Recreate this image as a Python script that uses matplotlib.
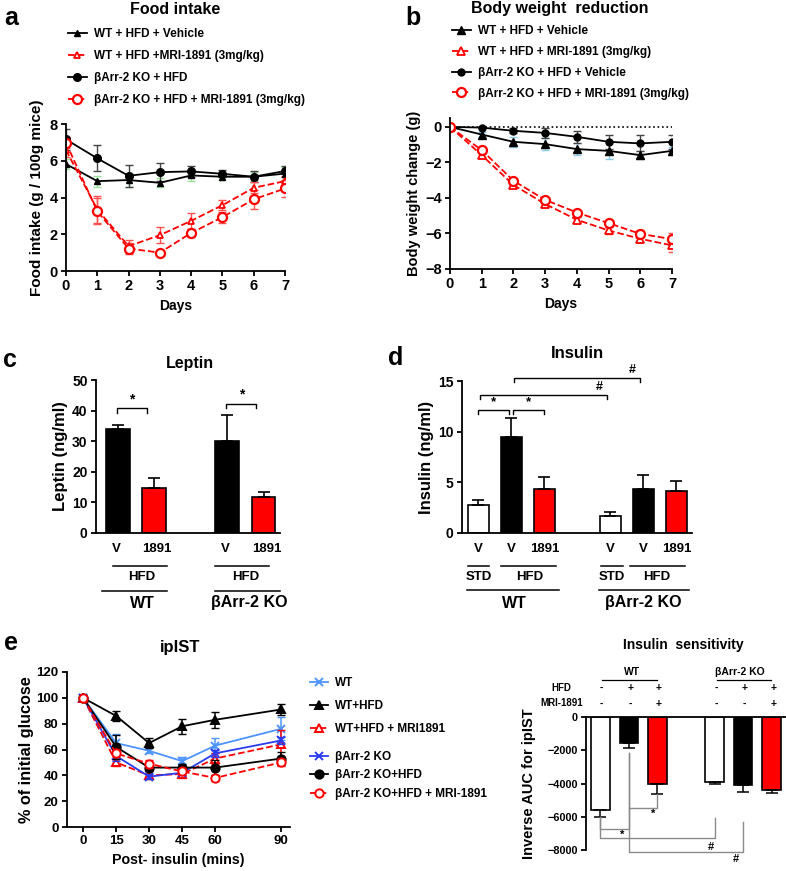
import matplotlib.pyplot as plt
from matplotlib import transforms

plt.rcParams['font.family'] = ['Liberation Sans', 'DejaVu Sans']
plt.rcParams['font.weight'] = 'bold'
plt.rcParams['axes.labelweight'] = 'bold'
plt.rcParams['axes.linewidth'] = 1.3
plt.rcParams['xtick.major.width'] = 1.3
plt.rcParams['ytick.major.width'] = 1.3
plt.rcParams['xtick.major.size'] = 3.5
plt.rcParams['ytick.major.size'] = 3.5
plt.rcParams['xtick.major.pad'] = 2.5
plt.rcParams['ytick.major.pad'] = 2.5

# ---- data ----
days = [0, 1, 2, 3, 4, 5, 6, 7]
food_wt_veh = [5.82, 4.89, 4.95, 4.8, 5.2, 5.13, 5.13, 5.3]
food_wt_veh_err = [0.25, 0.3, 0.4, 0.25, 0.3, 0.2, 0.25, 0.35]
food_wt_mri = [6.58, 3.35, 1.35, 1.95, 2.73, 3.58, 4.53, 4.89]
food_wt_mri_err = [0.35, 0.72, 0.35, 0.45, 0.45, 0.28, 0.3, 0.3]
food_ko = [7.16, 6.13, 5.18, 5.38, 5.42, 5.29, 5.13, 5.44]
food_ko_err = [0.55, 0.7, 0.6, 0.5, 0.3, 0.2, 0.3, 0.3]
food_ko_mri = [6.98, 3.25, 1.22, 1.0, 2.07, 2.93, 3.9, 4.49]
food_ko_mri_err = [0.3, 0.7, 0.3, 0.1, 0.2, 0.3, 0.5, 0.45]

bw_wt_veh = [0, -0.43, -0.84, -0.97, -1.25, -1.35, -1.59, -1.35]
bw_wt_veh_err = [0, 0.15, 0.28, 0.34, 0.35, 0.48, 0.24, 0.24]
bw_wt_mri = [0, -1.59, -3.27, -4.34, -5.23, -5.83, -6.3, -6.67]
bw_wt_mri_err = [0, 0.1, 0.1, 0.15, 0.15, 0.2, 0.2, 0.35]
bw_ko_veh = [0, -0.04, -0.22, -0.34, -0.56, -0.84, -0.93, -0.84]
bw_ko_veh_err = [0, 0.05, 0.15, 0.3, 0.35, 0.4, 0.45, 0.4]
bw_ko_mri = [0, -1.31, -3.03, -4.11, -4.82, -5.42, -6.02, -6.32]
bw_ko_mri_err = [0, 0.1, 0.1, 0.1, 0.1, 0.15, 0.2, 0.35]

leptin_pos = [0, 1, 3, 4]
leptin = [34.0, 14.8, 30.2, 11.9]
leptin_err = [1.3, 3.2, 8.5, 1.4]
leptin_colors = ['black', 'red', 'black', 'red']

insulin_pos = [0, 1, 2, 4, 5, 6]
insulin = [2.8, 9.5, 4.3, 1.65, 4.35, 4.15]
insulin_err = [0.45, 1.8, 1.2, 0.4, 1.35, 0.95]
bar_colors6 = ['white', 'black', 'red', 'white', 'black', 'red']

mins = [0, 15, 30, 45, 60, 90]
ip_wt = [100, 65, 59, 51, 63, 76]
ip_wt_err = [0, 7, 2, 3, 6, 9]
ip_wt_hfd = [100, 86, 65, 78, 83, 91]
ip_wt_hfd_err = [0, 4, 4, 6, 6, 4]
ip_wt_mri = [100, 50, 40, 41, 53, 64]
ip_wt_mri_err = [0, 3, 3, 3, 4, 11]
ip_ko = [100, 55, 39, 42, 57, 67]
ip_ko_err = [0, 4, 2, 2, 3, 3]
ip_ko_hfd = [100, 62, 46, 46, 46, 53]
ip_ko_hfd_err = [0, 9, 3, 3, 6, 5]
ip_ko_mri = [100, 57, 49, 43, 38, 50]
ip_ko_mri_err = [0, 3, 3, 3, 2, 3]

auc_pos = [0, 1, 2, 4, 5, 6]
auc = [-5600, -1560, -4030, -3900, -4090, -4390]
auc_err = [400, 300, 600, 100, 420, 200]
hfd_signs = ['-', '+', '+', '-', '+', '+']
mri_signs = ['-', '-', '+', '-', '-', '+']

# ---- figure ----
W, H = 786, 871
fig = plt.figure(figsize=(W / 100, H / 100), dpi=100)


def add_ax(l, t, r, b):
    ax = fig.add_axes([l / W, 1 - b / H, (r - l) / W, (b - t) / H])
    ax.spines['top'].set_visible(False)
    ax.spines['right'].set_visible(False)
    return ax


def ftext(x, y, s, **kw):
    kw.setdefault('ha', 'center')
    kw.setdefault('va', 'center')
    kw.setdefault('fontweight', 'bold')
    fig.text(x / W, 1 - y / H, s, **kw)


def below(ax):
    # x in data, y in figure pixels from top
    return transforms.blended_transform_factory(ax.transData, fig.transFigure)


def fy(y):
    return 1 - y / H


red_err = '#ff5050'

# ---- a: food intake ----
ax = add_ax(66, 124, 285, 271)
ax.errorbar(days, food_wt_veh, yerr=food_wt_veh_err, fmt='none', ecolor='#9be59b', capsize=3, lw=1)
ax.errorbar(days, food_ko, yerr=food_ko_err, fmt='none', ecolor='#444444', capsize=3, lw=1)
ax.errorbar(days, food_wt_mri, yerr=food_wt_mri_err, fmt='none', ecolor=red_err, capsize=3, lw=1)
ax.errorbar(days, food_ko_mri, yerr=food_ko_mri_err, fmt='none', ecolor=red_err, capsize=3, lw=1)
ax.plot(days, food_wt_veh, '-^', color='black', ms=5, lw=1.3, label='WT + HFD + Vehicle')
ax.plot(days, food_wt_mri, '--^', color='red', mfc='white', mec='red', mew=1.3, ms=5, lw=1.3,
        label='WT + HFD +MRI-1891 (3mg/kg)')
ax.plot(days, food_ko, '-o', color='black', ms=5.5, lw=1.3, label='βArr-2 KO + HFD')
ax.plot(days, food_ko_mri, '--o', color='red', mfc='white', mec='red', mew=1.6, ms=6.5, lw=1.3,
        label='βArr-2 KO + HFD + MRI-1891 (3mg/kg)')
ax.set_xlim(0, 7)
ax.set_ylim(0, 8)
ax.set_yticks([0, 2, 4, 6, 8])
ax.set_xticks(days)
ax.tick_params(labelsize=10.5)
ax.set_xlabel('Days', fontsize=10, labelpad=4)
ax.set_ylabel('Food intake (g / 100g mice)', fontsize=11, labelpad=4)
ax.legend(loc='upper left', bbox_to_anchor=(68 / W, fy(28)), bbox_transform=fig.transFigure,
          frameon=False, fontsize=8.5, handlelength=1.6, handletextpad=0.6, labelspacing=0.85,
          borderpad=0, borderaxespad=0)
ftext(175, 10, 'Food intake', fontsize=11.5)
ftext(11, 18, 'a', fontsize=18)

# ---- b: body weight ----
ax = add_ax(450, 118, 672, 269)
ax.axhline(0, color='black', ls=':', lw=1.2)
ax.errorbar(days, bw_wt_veh, yerr=bw_wt_veh_err, fmt='none', ecolor='#8ccbf0', capsize=3, lw=1)
ax.errorbar(days, bw_ko_veh, yerr=bw_ko_veh_err, fmt='none', ecolor='#444444', capsize=3, lw=1)
ax.errorbar(days, bw_wt_mri, yerr=bw_wt_mri_err, fmt='none', ecolor=red_err, capsize=3, lw=1)
ax.errorbar(days, bw_ko_mri, yerr=bw_ko_mri_err, fmt='none', ecolor=red_err, capsize=3, lw=1)
ax.plot(days, bw_wt_veh, '-^', color='black', ms=6, lw=1.3, label='WT + HFD + Vehicle')
ax.plot(days, bw_wt_mri, '--^', color='red', mfc='white', mec='red', mew=1.3, ms=6, lw=1.3,
        label='WT + HFD + MRI-1891 (3mg/kg)')
ax.plot(days, bw_ko_veh, '-o', color='black', ms=5, lw=1.3, label='βArr-2 KO + HFD + Vehicle')
ax.plot(days, bw_ko_mri, '--o', color='red', mfc='white', mec='red', mew=1.6, ms=6.5, lw=1.3,
        label='βArr-2 KO + HFD + MRI-1891 (3mg/kg)')
ax.set_xlim(0, 7)
ax.set_ylim(-8, 0.5)
ax.set_yticks([0, -2, -4, -6, -8])
ax.set_xticks(days)
ax.tick_params(labelsize=10.5)
ax.set_xlabel('Days', fontsize=10, labelpad=4)
ax.set_ylabel('Body weight change (g)', fontsize=10.5, labelpad=3)
ax.legend(loc='upper left', bbox_to_anchor=(452 / W, fy(25)), bbox_transform=fig.transFigure,
          frameon=False, fontsize=8.5, handlelength=1.6, handletextpad=0.6, labelspacing=0.75,
          borderpad=0, borderaxespad=0)
ftext(560, 9, 'Body weight  reduction', fontsize=11.5)
ftext(413, 18, 'b', fontsize=18)

# ---- c: leptin ----
ax = add_ax(96, 380, 280, 533)
ax.bar(leptin_pos, leptin, width=0.65, color=leptin_colors, edgecolor='black', lw=1.2,
       yerr=[[0] * 4, leptin_err], capsize=4, error_kw={'elinewidth': 1.2, 'capthick': 1.2})
ax.set_xlim(-0.6, 4.45)
ax.set_ylim(0, 50)
ax.set_yticks([0, 10, 20, 30, 40, 50])
ax.set_xticks([])
ax.tick_params(labelsize=10)
ax.set_ylabel('Leptin (ng/ml)', fontsize=12, labelpad=3)
for x0, x1, yb, yt in [(-0.03, 0.8, 39.2, 40.7), (2.98, 3.8, 40.8, 42.1)]:
    ax.plot([x0, x0, x1, x1], [yb, yt, yt, yb], color='black', lw=1, clip_on=False)
    ax.text((x0 + x1) / 2, yt + 0.8, '*', ha='center', va='bottom', fontsize=10, fontweight='bold')
tr = below(ax)
for p, s in zip(leptin_pos, ['V', '1891', 'V', '1891']):
    ax.text(p + (0.08 if s == '1891' else -0.05), fy(549), s, transform=tr, ha='center', va='center',
            fontsize=9.5, fontweight='bold')
for x0, x1, xt in [(-0.14, 1.34, 0.65), (2.66, 4.16, 3.5)]:
    ax.plot([x0, x1], [fy(566), fy(566)], transform=tr, color='black', lw=1.1, clip_on=False)
    ax.text(xt, fy(577), 'HFD', transform=tr, ha='center', va='center', fontsize=9.5, fontweight='bold')
for x0, x1, xt, s in [(-0.44, 1.34, 0.68, 'WT'), (2.66, 4.44, 3.6, 'βArr-2 KO')]:
    ax.plot([x0, x1], [fy(591), fy(591)], transform=tr, color='black', lw=1.1, clip_on=False)
    ax.text(xt, fy(603), s, transform=tr, ha='center', va='center', fontsize=11.5, fontweight='bold')
ftext(190, 363, 'Leptin', fontsize=11.5)
ftext(10, 360, 'c', fontsize=18)

# ---- d: insulin ----
ax = add_ax(462, 381, 692, 533)
ax.bar(insulin_pos, insulin, width=0.64, color=bar_colors6, edgecolor='black', lw=1.2,
       yerr=[[0] * 6, insulin_err], capsize=4, error_kw={'elinewidth': 1.2, 'capthick': 1.2})
ax.set_xlim(-0.5, 6.47)
ax.set_ylim(0, 15)
ax.set_yticks([0, 5, 10, 15])
ax.set_xticks([])
ax.tick_params(labelsize=10)
ax.set_ylabel('Insulin (ng/ml)', fontsize=12, labelpad=3)
for x0, x1, yb, yt, s in [(0.0, 0.92, 11.7, 12.1, '*'), (1.05, 2.0, 11.7, 12.1, '*'),
                          (0.05, 3.9, 13.2, 13.6, '#'), (1.08, 4.9, 14.9, 15.3, '#')]:
    ax.plot([x0, x0, x1, x1], [yb, yt, yt, yb], color='black', lw=1, clip_on=False)
    xt = (x0 + x1) / 2 if s == '*' else x1 - 0.25
    ax.text(xt, yt + 0.2, s, ha='center', va='bottom', fontsize=9.5 if s == '*' else 9)
tr = below(ax)
for p, s in zip(insulin_pos, ['V', 'V', '1891', 'V', 'V', '1891']):
    ax.text(p, fy(549), s, transform=tr, ha='center', va='center', fontsize=9.5, fontweight='bold')
for x0, x1, xt, s in [(-0.32, 0.32, 0, 'STD'), (0.68, 2.35, 1.55, 'HFD'),
                      (3.71, 4.38, 4.05, 'STD'), (4.59, 6.26, 5.4, 'HFD')]:
    ax.plot([x0, x1], [fy(566), fy(566)], transform=tr, color='black', lw=1.1, clip_on=False)
    ax.text(xt, fy(577), s, transform=tr, ha='center', va='center', fontsize=9.5, fontweight='bold')
for x0, x1, xt, s in [(-0.35, 2.44, 1.08, 'WT'), (3.65, 6.38, 5.0, 'βArr-2 KO')]:
    ax.plot([x0, x1], [fy(590), fy(590)], transform=tr, color='black', lw=1.1, clip_on=False)
    ax.text(xt, fy(603), s, transform=tr, ha='center', va='center', fontsize=11.5, fontweight='bold')
ftext(577, 353, 'Insulin', fontsize=12)
ftext(396, 358, 'd', fontsize=18)

# ---- e: ipIST ----
ax = add_ax(67, 672, 290, 827)
light_blue = '#4d94ff'
blue = '#2a3cf0'
series = [
    (ip_wt, ip_wt_err, '-', 'x', light_blue, 'white', 'WT'),
    (ip_wt_hfd, ip_wt_hfd_err, '-', '^', 'black', 'black', 'WT+HFD'),
    (ip_wt_mri, ip_wt_mri_err, '--', '^', 'red', 'white', 'WT+HFD + MRI1891'),
    (ip_ko, ip_ko_err, '-', 'x', blue, 'white', 'βArr-2 KO'),
    (ip_ko_hfd, ip_ko_hfd_err, '-', 'o', 'black', 'black', 'βArr-2 KO+HFD'),
    (ip_ko_mri, ip_ko_mri_err, '--', 'o', 'red', 'white', 'βArr-2 KO+HFD + MRI-1891'),
]
handles = []
for vals, err, ls, mk, col, mfc, lab in series:
    ax.errorbar(mins, vals, yerr=err, fmt='none', ecolor=col, capsize=3, lw=1.1)
    h, = ax.plot(mins, vals, ls=ls, marker=mk, color=col, mfc=mfc, mec=col, mew=1.4,
                 ms=6 if mk != 'x' else 5.5, lw=1.3, label=lab)
    handles.append(h)
ax.set_xlim(-7.3, 94)
ax.set_ylim(0, 120)
ax.set_yticks([0, 20, 40, 60, 80, 100, 120])
ax.set_xticks(mins)
ax.tick_params(labelsize=9.5)
ax.set_xlabel('Post- insulin (mins)', fontsize=10.3, labelpad=4)
ax.set_ylabel('% of initial glucose', fontsize=11.7, labelpad=2)
leg1 = ax.legend(handles[:3], [h.get_label() for h in handles[:3]], loc='upper left',
                 bbox_to_anchor=(310 / W, fy(677)), bbox_transform=fig.transFigure,
                 frameon=False, fontsize=8.5, handlelength=1.5, handletextpad=0.6,
                 labelspacing=0.95, borderpad=0, borderaxespad=0)
ax.add_artist(leg1)
ax.legend(handles[3:], [h.get_label() for h in handles[3:]], loc='upper left',
          bbox_to_anchor=(310 / W, fy(751)), bbox_transform=fig.transFigure,
          frameon=False, fontsize=8.5, handlelength=1.5, handletextpad=0.6,
          labelspacing=0.55, borderpad=0, borderaxespad=0)
ftext(180, 647, 'ipIST', fontsize=12)
ftext(11, 643, 'e', fontsize=18)

# ---- f: insulin sensitivity ----
ax = fig.add_axes([586 / W, 1 - 850 / H, 200 / W, 133 / H])
ax.spines['right'].set_visible(False)
ax.spines['bottom'].set_visible(False)
ax.bar(auc_pos, auc, width=0.65, color=bar_colors6, edgecolor='black', lw=1.2,
       yerr=[auc_err, [0] * 6], capsize=4, error_kw={'elinewidth': 1.1, 'capthick': 1.1})
ax.set_xlim(-0.5, 6.5)
ax.set_ylim(-8000, 0)
ax.set_yticks([0, -2000, -4000, -6000, -8000])
ax.tick_params(axis='y', labelsize=7.8)
ax.set_xticks([])
ax.set_ylabel('Inverse AUC for ipIST', fontsize=10.5, labelpad=8)
g = '#8a8a8a'
brackets = [
    ([0, 0, 1, 1], [-6000, -6737, -6737, -2150], 0.77, -7100, '*'),
    ([1, 1, 2, 2], [-2150, -5474, -5474, -4632], 1.86, -5835, '*'),
    ([0, 0, 4, 4], [-6000, -7278, -7278, -6075], 3.86, -7820, '#'),
    ([1, 1, 5, 5], [-5474, -8120, -8120, -6316], 4.74, -8540, '#'),
]
for xs, ys, xt, yt, s in brackets:
    ax.plot(xs, ys, color=g, lw=1, clip_on=False)
    ax.text(xt, yt, s, ha='center', va='center', fontsize=8, fontweight='bold')
tr = below(ax)
for p, h_s, m_s in zip(auc_pos, hfd_signs, mri_signs):
    ax.text(p + 0.05, fy(688), h_s, transform=tr, ha='center', va='center', fontsize=7.5, fontweight='bold')
    ax.text(p + 0.05, fy(704), m_s, transform=tr, ha='center', va='center', fontsize=7.5, fontweight='bold')
ax.text(-1.35, fy(688), 'HFD', transform=tr, ha='center', va='center', fontsize=7, fontweight='bold')
ax.text(-1.35, fy(703), 'MRI-1891', transform=tr, ha='center', va='center', fontsize=7, fontweight='bold')
for x0, x1, xt, s in [(0.07, 2.0, 1.1, 'WT'), (4.07, 5.96, 4.9, 'βArr-2 KO')]:
    ax.plot([x0, x1], [fy(680), fy(680)], transform=tr, color='black', lw=0.9, clip_on=False)
    ax.text(xt, fy(672), s, transform=tr, ha='center', va='center', fontsize=7.5, fontweight='bold')
ftext(683, 645, 'Insulin  sensitivity', fontsize=10)

fig.savefig('out.png', dpi=100)
